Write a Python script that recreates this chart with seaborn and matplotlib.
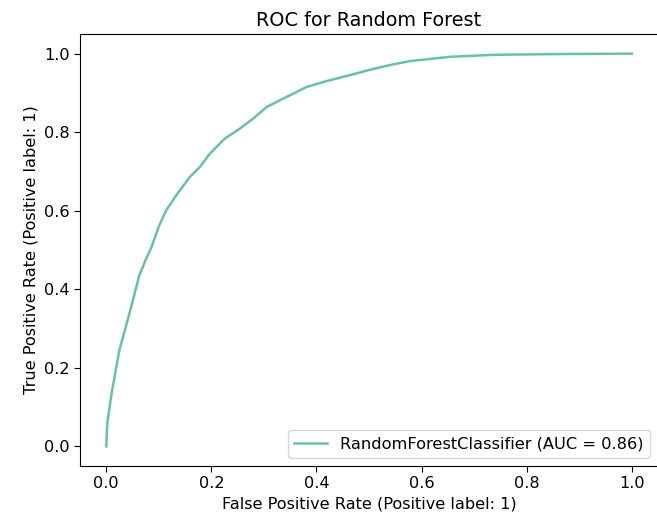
import matplotlib
matplotlib.use("Agg")
import matplotlib.pyplot as plt
import seaborn as sns
import pandas as pd

fpr = [0.0, 0.002, 0.010, 0.025, 0.044, 0.063, 0.076, 0.086, 0.100, 0.114,
       0.133, 0.159, 0.178, 0.197, 0.225, 0.254, 0.279, 0.305, 0.336, 0.381,
       0.419, 0.463, 0.502, 0.540, 0.578, 0.655, 0.737, 0.864, 1.0]
tpr = [0.0, 0.060, 0.134, 0.245, 0.338, 0.436, 0.478, 0.507, 0.560, 0.601,
       0.639, 0.686, 0.711, 0.745, 0.783, 0.809, 0.834, 0.864, 0.885, 0.915,
       0.930, 0.945, 0.959, 0.971, 0.981, 0.992, 0.997, 0.999, 1.0]
label = "RandomForestClassifier (AUC = 0.86)"

plt.rcParams.update(plt.rcParamsDefault)
sns.set_palette("Set2")
plt.rcParams['font.family'] = ['DejaVu Sans']

df = pd.DataFrame({"fpr": fpr, "tpr": tpr, "model": label})

fig = plt.figure(figsize=(6.57, 5.16), dpi=100)
ax = fig.add_axes([80 / 657, 50 / 516, 578 / 657, 432 / 516])
sns.lineplot(data=df, x="fpr", y="tpr", hue="model", sort=False,
             estimator=None, ax=ax, linewidth=1.8)
ax.set_xlim(-0.05, 1.05)
ax.set_ylim(-0.05, 1.05)
ax.set_xticks([0.0, 0.2, 0.4, 0.6, 0.8, 1.0])
ax.set_yticks([0.0, 0.2, 0.4, 0.6, 0.8, 1.0])
ax.set_xlabel("False Positive Rate (Positive label: 1)", fontsize=11.6)
ax.set_ylabel("True Positive Rate (Positive label: 1)", fontsize=11.6)
ax.set_title("ROC for Random Forest", fontsize=13.9)
ax.tick_params(labelsize=11.6, length=4.0)
ax.legend(loc="lower right", fontsize=11.7)
fig.savefig("out.png", dpi=100)
